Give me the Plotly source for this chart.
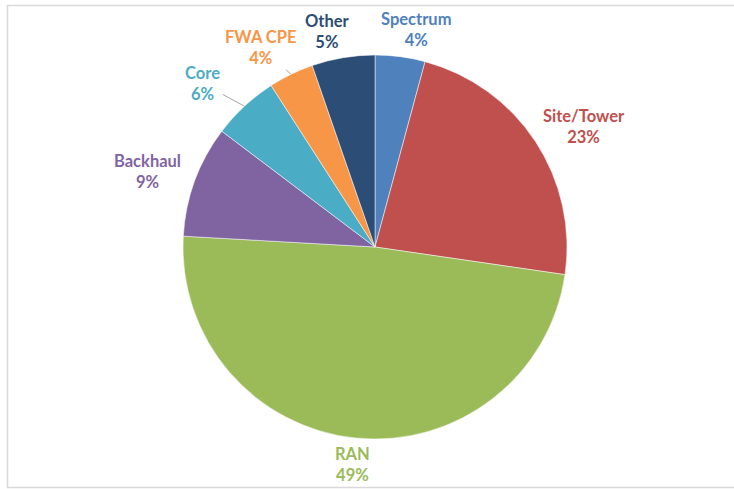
import math
import plotly.graph_objects as go

labels = ["Spectrum", "Site/Tower", "RAN", "Backhaul", "Core", "FWA CPE", "Other"]
values = [4.2, 23.1, 48.6, 9.4, 5.6, 3.8, 5.3]
colors = ["#4F81BD", "#C0504D", "#9BBB59", "#8064A2", "#4BACC6", "#F79646", "#2C4D75"]
leader = [False, False, False, False, True, True, False]

W, H = 734, 489
cx, cy, r = 375, 247, 192
FONT = "Lato, Carlito, Open Sans, sans-serif"
FS = 16.5
CHAR_W = 8.3
MIN_GAP = 35

fig = go.Figure(go.Pie(
    labels=labels,
    values=values,
    sort=False,
    direction="clockwise",
    rotation=0,
    marker=dict(colors=colors, line=dict(color="white", width=0.5)),
    textinfo="none",
    hoverinfo="label+percent",
    showlegend=False,
    domain=dict(x=[(cx - r) / W, (cx + r) / W], y=[(H - cy - r) / H, (H - cy + r) / H]),
))

total = sum(values)
items = []
cum = 0.0
for lab, v, col, ld in zip(labels, values, colors, leader):
    mid = (cum + v / 2) / total * 2 * math.pi
    cum += v
    s, c = math.sin(mid), math.cos(mid)
    hw = 0.5 * CHAR_W * max(len(lab), 3)
    R, hh = 209, 10
    items.append(dict(lab=lab, v=v, col=col, ld=ld, s=s, c=c, hw=hw,
                      lx=cx + s * (R + hw), ly=cy - c * (R + hh)))

# spread apart free labels that sit at the same height and crowd each other
free = [it for it in items if not it["ld"]]
for a in free:
    for b in free:
        if a is b or a["lx"] >= b["lx"] or abs(a["ly"] - b["ly"]) > 20:
            continue
        gap = (b["lx"] - b["hw"]) - (a["lx"] + a["hw"])
        if gap < MIN_GAP:
            push = (MIN_GAP - gap) / 2
            a["lx"] -= push
            b["lx"] += push

annotations = []
for it in items:
    text = f"{it['lab']}<br>{round(it['v'] / total * 100):.0f}%"
    font = dict(family=FONT, size=FS, color=it["col"], weight="bold")
    s, c = it["s"], it["c"]
    if it["ld"]:
        px, py = cx + r * s, cy - r * c  # point on the pie edge
        annotations.append(dict(xref="paper", yref="paper", x=px / W, y=1 - py / H,
                                text=text, font=font, showarrow=True, arrowhead=0,
                                arrowwidth=1, arrowcolor="#A6A6A6",
                                ax=s * 45 - 11, ay=-c * 28 - 2,
                                standoff=0, startstandoff=1))
    else:
        annotations.append(dict(xref="paper", yref="paper", x=it["lx"] / W,
                                y=1 - it["ly"] / H, text=text, font=font,
                                showarrow=False, xanchor="center", yanchor="middle"))

fig.update_layout(
    width=W, height=H,
    margin=dict(l=0, r=0, t=0, b=0),
    paper_bgcolor="white",
    annotations=annotations,
    shapes=[dict(type="rect", xref="paper", yref="paper",
                 x0=7.5 / W, x1=1.02, y0=1 - 487.5 / H, y1=1 - 5.5 / H,
                 line=dict(color="#D9D9D9", width=1.5))],
)

fig.write_html("out.html", config=dict(displayModeBar=False),
               post_script="document.body.style.margin='0px';")
